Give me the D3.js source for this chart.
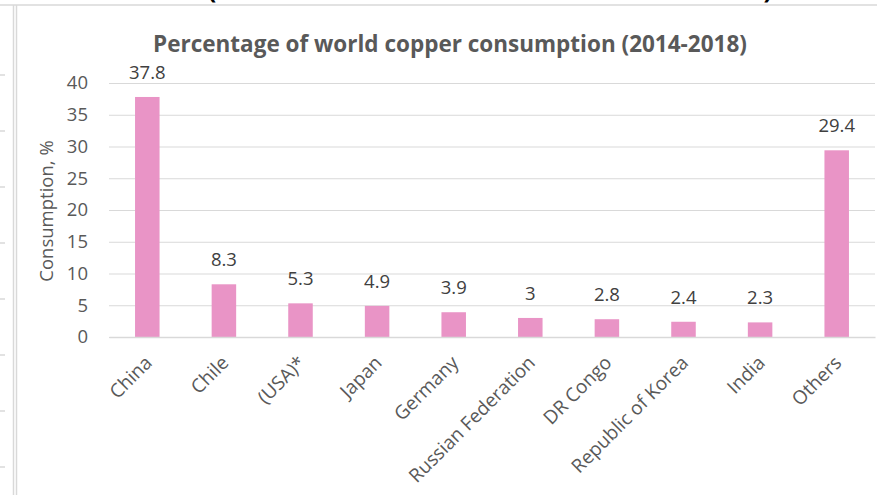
<!DOCTYPE html>
<html>
<head>
<meta charset="utf-8">
<script src="https://cdn.jsdelivr.net/npm/d3@7"></script>
<style>
  body { margin: 0; background: #fff; }
  svg { display: block; font-family: "Open Sans", sans-serif; }
</style>
</head>
<body>
<div id="chart"></div>
<script>
// data
const countries = ["China", "Chile", "(USA)*", "Japan", "Germany", "Russian Federation", "DR Congo", "Republic of Korea", "India", "Others"]
const consumption = [37.8, 8.3, 5.3, 4.9, 3.9, 3, 2.8, 2.4, 2.3, 29.4]
const yTicks = [0, 5, 10, 15, 20, 25, 30, 35, 40]

const W = 877, H = 495
const plotLeft = 109, plotRight = 875, plotTop = 83, plotBottom = 337

const svg = d3.select("#chart").append("svg")
    .attr("width", W)
    .attr("height", H)

// spreadsheet edges around the pasted chart
svg.append("line").attr("x1", 0).attr("x2", W).attr("y1", 5).attr("y2", 5)
    .attr("stroke", "#d9d9d9").attr("stroke-width", 1.5)
svg.selectAll("line.vb").data([13.5, 16.5]).enter().append("line")
    .attr("class", "vb")
    .attr("x1", d => d).attr("x2", d => d).attr("y1", 5).attr("y2", H)
    .attr("stroke", "#d9d9d9").attr("stroke-width", 1.5)
svg.selectAll("line.rowtick").data(d3.range(75, H, 56)).enter().append("line")
    .attr("class", "rowtick")
    .attr("x1", 0).attr("x2", 5).attr("y1", d => d).attr("y2", d => d)
    .attr("stroke", "#d9d9d9").attr("stroke-width", 1.5)
// bits of the cut off heading above (cut off in the original too)
svg.selectAll("text.cut").data([{ x: 212, t: "(" }, { x: 768, t: ")" }]).enter().append("text")
    .attr("class", "cut")
    .attr("x", d => d.x).attr("y", -2)
    .attr("text-anchor", "middle")
    .attr("font-size", "26px").attr("font-weight", "bold")
    .attr("fill", "#000")
    .text(d => d.t)

// scales
const x = d3.scaleBand()
    .domain(countries)
    .range([plotLeft, plotRight])
    .paddingInner(0.68)
    .paddingOuter(0.34)

const y = d3.scaleLinear()
    .domain([0, 40])
    .range([plotBottom, plotTop])

// gridlines + y labels
const yAxis = d3.axisLeft(y)
    .tickValues(yTicks)
    .tickSize(-(plotRight - plotLeft))
    .tickPadding(21)
const gy = svg.append("g")
    .attr("transform", "translate(" + plotLeft + ",0)")
    .call(yAxis)
gy.select(".domain").remove()
gy.selectAll(".tick line").attr("stroke", "#d9d9d9").attr("stroke-width", 1)
gy.selectAll(".tick text")
    .attr("font-size", "18.5px")
    .attr("font-family", "Open Sans, sans-serif")
    .attr("fill", "#595959")

// bars
svg.selectAll("rect.bar")
    .data(countries)
    .enter()
    .append("rect")
    .attr("class", "bar")
    .attr("x", d => x(d))
    .attr("y", (d, i) => y(consumption[i]))
    .attr("width", x.bandwidth())
    .attr("height", (d, i) => plotBottom - y(consumption[i]))
    .attr("fill", "#e994c6")

// x axis
const xAxis = d3.axisBottom(x).tickSize(0).tickSizeOuter(0)
const gx = svg.append("g")
    .attr("transform", "translate(0," + plotBottom + ")")
    .call(xAxis)
gx.select(".domain").attr("stroke", "#d9d9d9").attr("stroke-width", 1.5)
gx.selectAll(".tick text")
    .attr("font-size", "19px")
    .attr("font-family", "Open Sans, sans-serif")
    .attr("fill", "#595959")
    .attr("text-anchor", "end")
    .attr("x", 0).attr("y", 0).attr("dy", 0)
    .attr("transform", "translate(6,27) rotate(-45)")

// value labels
svg.selectAll("text.val")
    .data(countries)
    .enter()
    .append("text")
    .attr("class", "val")
    .attr("x", d => x(d) + x.bandwidth() / 2)
    .attr("y", (d, i) => y(consumption[i]) - 18)
    .attr("text-anchor", "middle")
    .attr("font-size", "18.5px")
    .attr("fill", "#404040")
    .text((d, i) => consumption[i])

// y label
svg.append("text")
    .attr("transform", "translate(53,211) rotate(-90)")
    .attr("text-anchor", "middle")
    .attr("font-size", "18.5px")
    .attr("fill", "#595959")
    .text("Consumption, %")

// title
svg.append("text")
    .attr("x", 450)
    .attr("y", 52)
    .attr("text-anchor", "middle")
    .attr("font-size", "22.5px")
    .attr("font-weight", "bold")
    .attr("fill", "#595959")
    .text("Percentage of world copper consumption (2014-2018)")
</script>
</body>
</html>
